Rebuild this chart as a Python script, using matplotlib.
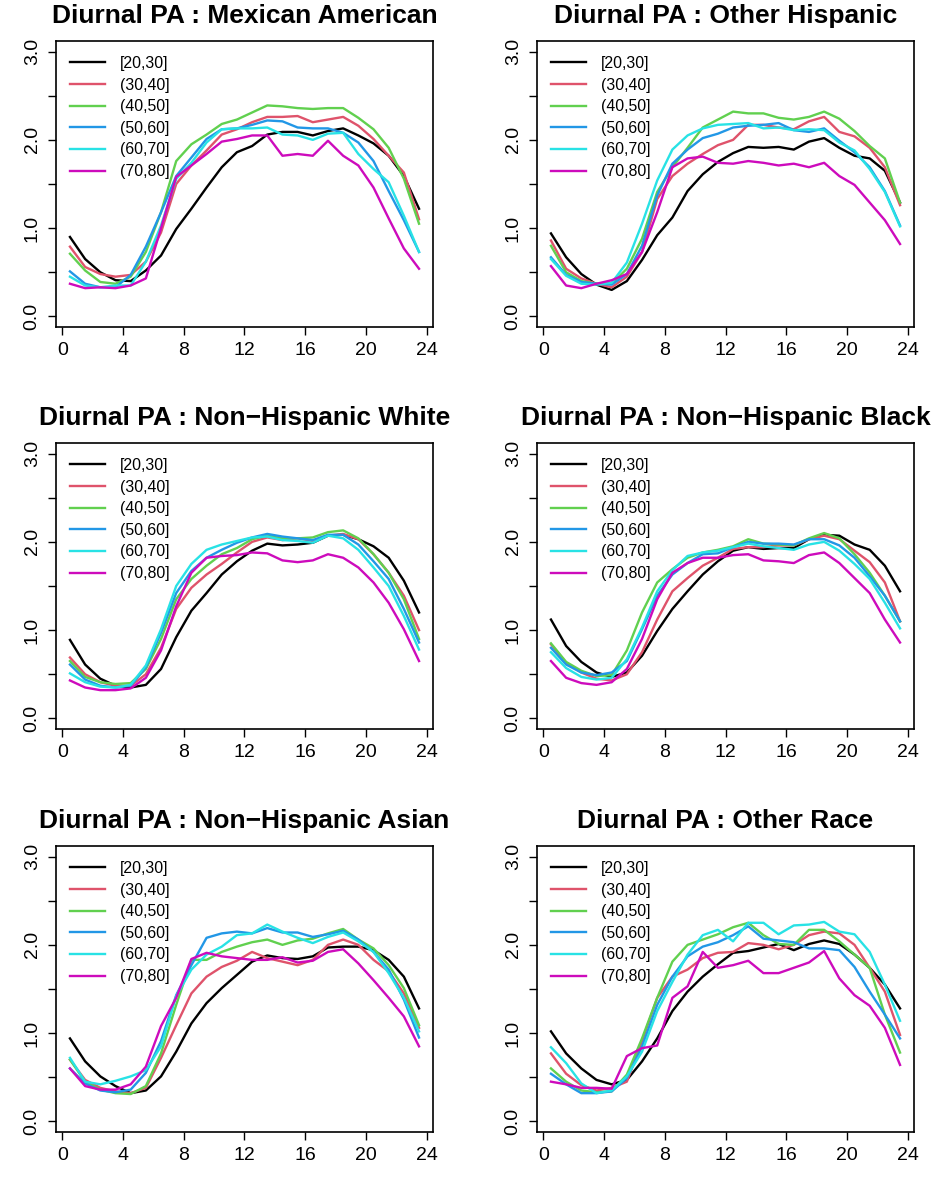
import matplotlib
matplotlib.use("Agg")
import matplotlib.pyplot as plt

plt.rcParams['font.family'] = ['Liberation Sans', 'DejaVu Sans']

hours = [0.5, 1.5, 2.5, 3.5, 4.5, 5.5, 6.5, 7.5, 8.5, 9.5, 10.5, 11.5,
         12.5, 13.5, 14.5, 15.5, 16.5, 17.5, 18.5, 19.5, 20.5, 21.5, 22.5, 23.5]
age_groups = ["[20,30]", "(30,40]", "(40,50]", "(50,60]", "(60,70]", "(70,80]"]
colors = ["#000000", "#DF536B", "#61D04F", "#2297E6", "#28E2E5", "#CD0BBC"]

# mean activity by hour, one row per age group
mexican_american = [
    [0.90, 0.65, 0.50, 0.41, 0.40, 0.52, 0.69, 0.99, 1.22, 1.46, 1.69, 1.86, 1.93, 2.06, 2.09, 2.09, 2.05, 2.10, 2.13, 2.05, 1.96, 1.82, 1.59, 1.22],
    [0.79, 0.56, 0.48, 0.45, 0.47, 0.62, 0.95, 1.50, 1.71, 1.88, 2.06, 2.12, 2.20, 2.26, 2.26, 2.27, 2.20, 2.23, 2.26, 2.16, 2.01, 1.82, 1.63, 1.10],
    [0.71, 0.52, 0.39, 0.37, 0.45, 0.73, 1.18, 1.76, 1.95, 2.06, 2.18, 2.23, 2.31, 2.39, 2.38, 2.36, 2.35, 2.36, 2.36, 2.25, 2.12, 1.91, 1.56, 1.05],
    [0.51, 0.37, 0.33, 0.33, 0.47, 0.79, 1.18, 1.59, 1.80, 2.01, 2.12, 2.13, 2.17, 2.22, 2.21, 2.14, 2.13, 2.13, 2.08, 1.97, 1.76, 1.42, 1.09, 0.73],
    [0.45, 0.35, 0.33, 0.35, 0.35, 0.62, 1.03, 1.56, 1.74, 1.97, 2.12, 2.13, 2.13, 2.14, 2.06, 2.05, 2.00, 2.07, 2.08, 1.84, 1.67, 1.52, 1.14, 0.73],
    [0.37, 0.32, 0.33, 0.32, 0.35, 0.43, 1.00, 1.58, 1.71, 1.84, 1.98, 2.01, 2.05, 2.05, 1.82, 1.84, 1.82, 1.99, 1.82, 1.71, 1.46, 1.11, 0.77, 0.54],
]
other_hispanic = [
    [0.94, 0.67, 0.48, 0.36, 0.30, 0.40, 0.64, 0.92, 1.12, 1.42, 1.61, 1.75, 1.85, 1.92, 1.91, 1.92, 1.89, 1.98, 2.02, 1.91, 1.82, 1.79, 1.65, 1.29],
    [0.86, 0.54, 0.43, 0.37, 0.33, 0.45, 0.73, 1.33, 1.59, 1.73, 1.84, 1.94, 2.00, 2.17, 2.17, 2.14, 2.12, 2.21, 2.26, 2.09, 2.04, 1.91, 1.69, 1.26],
    [0.80, 0.50, 0.40, 0.37, 0.37, 0.54, 0.88, 1.41, 1.69, 1.91, 2.14, 2.23, 2.32, 2.30, 2.30, 2.25, 2.23, 2.26, 2.32, 2.24, 2.10, 1.93, 1.79, 1.29],
    [0.67, 0.47, 0.39, 0.37, 0.36, 0.48, 0.80, 1.37, 1.73, 1.89, 2.02, 2.07, 2.14, 2.16, 2.17, 2.19, 2.11, 2.09, 2.13, 1.99, 1.86, 1.69, 1.42, 1.03],
    [0.65, 0.46, 0.37, 0.36, 0.38, 0.61, 1.05, 1.54, 1.89, 2.05, 2.13, 2.17, 2.18, 2.19, 2.13, 2.14, 2.11, 2.12, 2.11, 1.97, 1.88, 1.67, 1.41, 1.02],
    [0.57, 0.35, 0.32, 0.37, 0.41, 0.48, 0.73, 1.18, 1.69, 1.79, 1.81, 1.74, 1.73, 1.76, 1.74, 1.71, 1.73, 1.69, 1.74, 1.59, 1.49, 1.29, 1.09, 0.82],
]
nh_white = [
    [0.89, 0.61, 0.45, 0.37, 0.35, 0.38, 0.56, 0.92, 1.22, 1.42, 1.63, 1.78, 1.90, 1.98, 1.96, 1.97, 1.99, 2.07, 2.08, 2.03, 1.95, 1.82, 1.56, 1.20],
    [0.69, 0.50, 0.41, 0.37, 0.37, 0.50, 0.80, 1.24, 1.48, 1.63, 1.75, 1.88, 2.00, 2.05, 2.02, 2.04, 2.01, 2.07, 2.09, 2.03, 1.86, 1.65, 1.39, 1.00],
    [0.65, 0.47, 0.41, 0.39, 0.40, 0.56, 0.90, 1.35, 1.58, 1.73, 1.86, 1.93, 2.03, 2.07, 2.04, 2.04, 2.05, 2.11, 2.13, 2.04, 1.86, 1.65, 1.35, 0.90],
    [0.61, 0.44, 0.37, 0.35, 0.37, 0.58, 0.97, 1.42, 1.67, 1.82, 1.91, 1.99, 2.05, 2.09, 2.06, 2.04, 2.02, 2.08, 2.08, 1.97, 1.78, 1.58, 1.24, 0.86],
    [0.51, 0.41, 0.36, 0.35, 0.38, 0.60, 1.01, 1.50, 1.75, 1.91, 1.97, 2.01, 2.05, 2.06, 2.02, 2.01, 1.99, 2.07, 2.04, 1.91, 1.71, 1.50, 1.16, 0.78],
    [0.43, 0.35, 0.32, 0.32, 0.34, 0.46, 0.77, 1.27, 1.65, 1.82, 1.84, 1.85, 1.88, 1.87, 1.79, 1.77, 1.79, 1.86, 1.82, 1.71, 1.54, 1.31, 1.01, 0.65],
]
nh_black = [
    [1.12, 0.82, 0.64, 0.52, 0.47, 0.52, 0.71, 0.99, 1.24, 1.44, 1.63, 1.78, 1.90, 1.94, 1.92, 1.93, 1.93, 2.03, 2.08, 2.07, 1.97, 1.91, 1.73, 1.44],
    [0.84, 0.63, 0.52, 0.45, 0.43, 0.50, 0.75, 1.12, 1.44, 1.59, 1.73, 1.82, 1.92, 1.94, 1.94, 1.96, 1.96, 2.03, 2.07, 2.03, 1.90, 1.77, 1.54, 1.10],
    [0.85, 0.64, 0.54, 0.48, 0.49, 0.77, 1.20, 1.54, 1.69, 1.82, 1.88, 1.91, 1.95, 2.03, 1.98, 1.97, 1.96, 2.04, 2.10, 2.04, 1.86, 1.65, 1.39, 1.10],
    [0.80, 0.61, 0.52, 0.49, 0.52, 0.65, 1.01, 1.39, 1.63, 1.76, 1.86, 1.87, 1.94, 2.00, 1.98, 1.98, 1.97, 2.03, 2.03, 1.96, 1.82, 1.61, 1.39, 1.10],
    [0.75, 0.57, 0.47, 0.44, 0.46, 0.67, 1.03, 1.44, 1.68, 1.84, 1.88, 1.90, 1.94, 1.98, 1.95, 1.93, 1.91, 1.97, 2.00, 1.90, 1.75, 1.58, 1.31, 1.02],
    [0.65, 0.46, 0.40, 0.38, 0.41, 0.56, 0.90, 1.35, 1.65, 1.76, 1.82, 1.82, 1.85, 1.86, 1.79, 1.78, 1.76, 1.85, 1.88, 1.76, 1.59, 1.42, 1.12, 0.86],
]
nh_asian = [
    [0.94, 0.68, 0.51, 0.40, 0.32, 0.35, 0.51, 0.79, 1.11, 1.34, 1.51, 1.66, 1.81, 1.88, 1.85, 1.84, 1.87, 1.97, 1.98, 1.98, 1.94, 1.83, 1.64, 1.28],
    [0.70, 0.47, 0.38, 0.34, 0.32, 0.38, 0.72, 1.09, 1.45, 1.64, 1.75, 1.82, 1.92, 1.85, 1.81, 1.77, 1.83, 2.00, 2.06, 2.00, 1.83, 1.70, 1.45, 1.06],
    [0.70, 0.45, 0.36, 0.32, 0.31, 0.40, 0.77, 1.32, 1.83, 1.83, 1.92, 1.98, 2.03, 2.06, 2.00, 2.05, 2.07, 2.13, 2.18, 2.06, 1.96, 1.77, 1.51, 1.09],
    [0.60, 0.43, 0.35, 0.33, 0.36, 0.55, 0.91, 1.43, 1.77, 2.08, 2.13, 2.15, 2.13, 2.19, 2.14, 2.14, 2.09, 2.12, 2.16, 2.06, 1.92, 1.72, 1.38, 0.95],
    [0.72, 0.45, 0.42, 0.46, 0.51, 0.58, 0.85, 1.42, 1.72, 1.89, 1.98, 2.11, 2.13, 2.23, 2.15, 2.08, 2.02, 2.09, 2.14, 2.04, 1.92, 1.68, 1.40, 1.02],
    [0.60, 0.40, 0.36, 0.36, 0.42, 0.62, 1.08, 1.40, 1.84, 1.91, 1.87, 1.85, 1.83, 1.83, 1.86, 1.80, 1.82, 1.92, 1.95, 1.79, 1.60, 1.40, 1.19, 0.85],
]
other_race = [
    [1.02, 0.77, 0.60, 0.47, 0.42, 0.47, 0.68, 0.94, 1.25, 1.47, 1.64, 1.78, 1.91, 1.93, 1.97, 2.01, 1.94, 2.01, 2.05, 2.01, 1.89, 1.74, 1.55, 1.28],
    [0.77, 0.54, 0.41, 0.35, 0.38, 0.45, 0.91, 1.40, 1.64, 1.72, 1.85, 1.91, 1.92, 2.02, 2.00, 1.95, 2.00, 2.11, 2.15, 2.13, 2.00, 1.74, 1.47, 0.98],
    [0.60, 0.45, 0.35, 0.33, 0.34, 0.53, 0.94, 1.40, 1.81, 2.00, 2.06, 2.12, 2.20, 2.25, 2.11, 2.01, 2.00, 2.17, 2.17, 2.04, 1.89, 1.74, 1.21, 0.78],
    [0.54, 0.42, 0.32, 0.32, 0.34, 0.49, 0.85, 1.32, 1.64, 1.87, 1.98, 2.03, 2.11, 2.21, 2.07, 2.05, 2.03, 1.96, 1.96, 1.94, 1.75, 1.47, 1.21, 0.94],
    [0.84, 0.66, 0.43, 0.32, 0.35, 0.51, 0.79, 1.25, 1.58, 1.89, 2.11, 2.17, 2.04, 2.25, 2.25, 2.12, 2.22, 2.23, 2.26, 2.15, 2.12, 1.92, 1.55, 1.14],
    [0.45, 0.42, 0.38, 0.38, 0.37, 0.74, 0.83, 0.86, 1.40, 1.53, 1.92, 1.74, 1.77, 1.82, 1.68, 1.68, 1.74, 1.80, 1.93, 1.62, 1.43, 1.31, 1.06, 0.64],
]

titles = ["Diurnal PA : Mexican American", "Diurnal PA : Other Hispanic",
          "Diurnal PA : Non\u2212Hispanic White", "Diurnal PA : Non\u2212Hispanic Black",
          "Diurnal PA : Non\u2212Hispanic Asian", "Diurnal PA : Other Race"]
panels = [mexican_american, other_hispanic, nh_white, nh_black, nh_asian, other_race]

W, H = 938, 1191
fig = plt.figure(figsize=(W / 100, H / 100), dpi=100)
col_left = [56, 537]
row_top = [41, 443, 846]
box_w, box_h = 377, 286

for i in range(6):
    r, c = divmod(i, 2)
    ax = fig.add_axes([col_left[c] / W, 1 - (row_top[r] + box_h) / H, box_w / W, box_h / H])
    for vals, lab, col in zip(panels[i], age_groups, colors):
        ax.plot(hours, vals, color=col, lw=1.7, label=lab)
    ax.set_xlim(-0.42, 24.42)
    ax.set_ylim(-0.12, 3.12)
    ax.set_xticks([0, 4, 8, 12, 16, 20, 24])
    ax.set_xticklabels(["0", "4", "8", "12", "16", "20", "24"])
    ax.set_yticks([0, 0.5, 1, 1.5, 2, 2.5, 3])
    ax.set_yticklabels(["0.0", "", "1.0", "", "2.0", "", "3.0"], rotation=90, va="center")
    ax.tick_params(direction="out", length=6, width=1, labelsize=14, pad=5)
    for s in ax.spines.values():
        s.set_linewidth(1.2)
    ax.set_title(titles[i], fontsize=19, fontweight="bold", pad=13)
    ax.legend(loc="upper left", bbox_to_anchor=(0.037, 0.948), frameon=False,
              fontsize=11.4, handlelength=2.2, handletextpad=0.95, labelspacing=0.42,
              borderaxespad=0, borderpad=0)

fig.savefig("out.png", dpi=100)
